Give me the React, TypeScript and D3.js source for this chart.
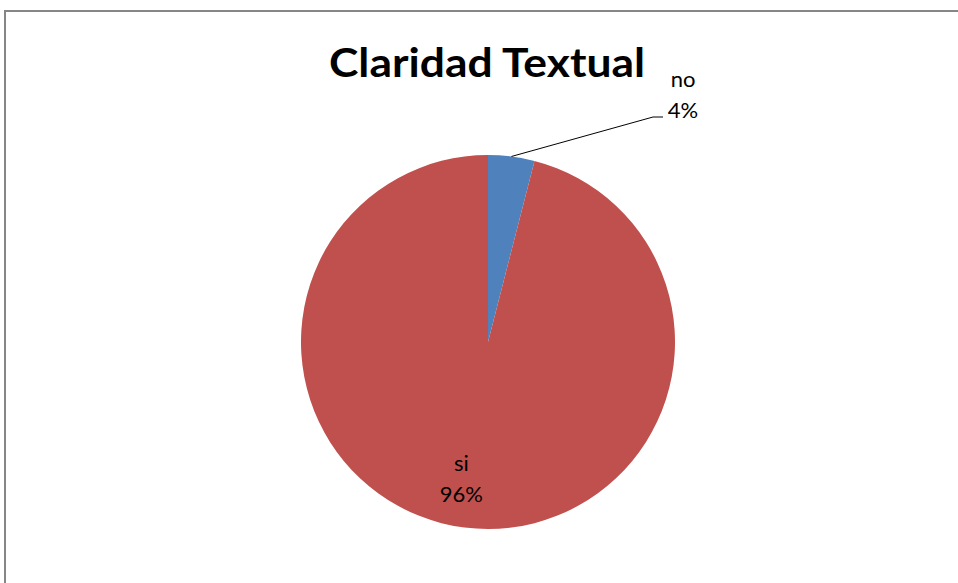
import React from "react";
import * as d3 from "d3";

const categories = ["no", "si"];
const values = [4, 96];
const colors = ["#4F81BD", "#C0504D"];
const title = "Claridad Textual";

const W = 958;
const H = 583;
const cx = 488;
const cy = 342;
const R = 187;

export default function App() {
  const pie = d3.pie<number>().sort(null).startAngle(0).endAngle(2 * Math.PI);
  const arcs = pie(values);
  const arc = d3.arc<d3.PieArcDatum<number>>().innerRadius(0).outerRadius(R);
  const inLabel = d3.arc<d3.PieArcDatum<number>>().innerRadius(R * 0.75).outerRadius(R * 0.75);
  const edge = d3.arc<d3.PieArcDatum<number>>().innerRadius(R).outerRadius(R);
  const total = d3.sum(values);
  const pct = (v: number) => `${Math.round((v / total) * 100)}%`;

  const font = "Lato, 'Open Sans', sans-serif";

  const noArc = arcs[0];
  const [ex, ey] = edge.centroid(noArc);
  const elbowX = cx + 165;
  const elbowY = cy - 225;
  const labelX = cx + 195;

  const siArc = arcs[1];
  const [sx, sy] = inLabel.centroid(siArc);

  return (
    <svg
      width={W}
      height={H}
      style={{ position: "absolute", left: 0, top: 0, display: "block" }}
    >
      <rect x={0} y={0} width={W} height={H} fill="#fff" />
      <line x1={5} y1={10} x2={5} y2={H} stroke="#868686" strokeWidth={2} />
      <line x1={4} y1={11} x2={W} y2={11} stroke="#868686" strokeWidth={2} />
      <text
        x={487}
        y={77}
        textAnchor="middle"
        fontFamily={font}
        fontWeight={700}
        fontSize={40}
        textLength={316}
        lengthAdjust="spacingAndGlyphs"
        fill="#000"
      >
        {title}
      </text>
      <g transform={`translate(${cx},${cy})`}>
        {arcs.map((a, i) => (
          <path key={categories[i]} d={arc(a) || ""} fill={colors[i]} />
        ))}
      </g>
      <polyline
        points={`${cx + ex},${cy + ey} ${elbowX},${elbowY} ${elbowX + 10},${elbowY}`}
        fill="none"
        stroke="#000"
        strokeWidth={1}
      />
      <text x={labelX} y={87} textAnchor="middle" fontFamily={font} fontSize={22} fill="#000">
        {categories[0]}
      </text>
      <text x={labelX} y={118} textAnchor="middle" fontFamily={font} fontSize={22} fill="#000">
        {pct(values[0])}
      </text>
      <text x={cx + sx - 9} y={cy + sy - 10} textAnchor="middle" fontFamily={font} fontSize={22} fill="#000">
        {categories[1]}
      </text>
      <text x={cx + sx - 9} y={cy + sy + 21} textAnchor="middle" fontFamily={font} fontSize={22} fill="#000">
        {pct(values[1])}
      </text>
    </svg>
  );
}
